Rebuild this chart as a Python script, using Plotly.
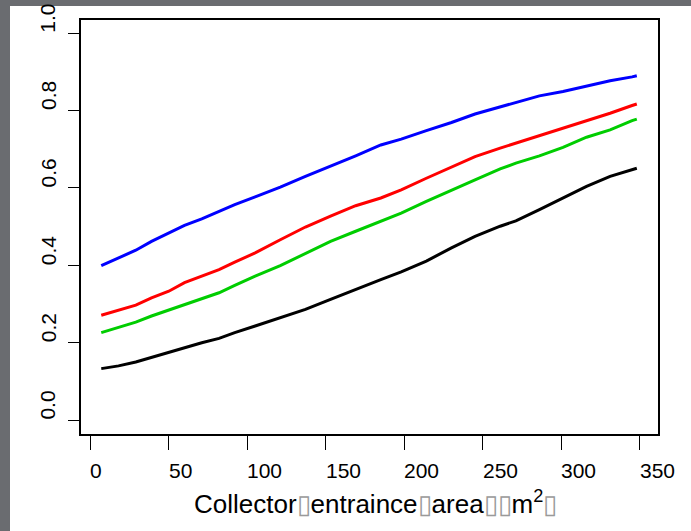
import plotly.graph_objects as go

# Collector entrance area (m^2)
area = [7, 18, 29, 39, 50, 60, 71, 82, 92, 105, 121, 137, 153, 169, 185,
        198, 214, 230, 245, 261, 271, 286, 301, 316, 331, 345, 348]

blue = [0.399, 0.419, 0.439, 0.462, 0.484, 0.503, 0.520, 0.539, 0.557, 0.577,
        0.602, 0.630, 0.656, 0.683, 0.711, 0.726, 0.748, 0.769, 0.791, 0.810,
        0.820, 0.838, 0.849, 0.863, 0.877, 0.887, 0.890]
red = [0.271, 0.284, 0.297, 0.316, 0.333, 0.355, 0.372, 0.389, 0.408, 0.432,
       0.466, 0.499, 0.527, 0.554, 0.574, 0.595, 0.625, 0.654, 0.681, 0.703,
       0.716, 0.734, 0.754, 0.774, 0.793, 0.813, 0.817]
green = [0.226, 0.239, 0.253, 0.269, 0.284, 0.299, 0.312, 0.329, 0.348, 0.372,
         0.399, 0.430, 0.462, 0.488, 0.514, 0.535, 0.565, 0.595, 0.621, 0.649,
         0.664, 0.683, 0.705, 0.731, 0.750, 0.774, 0.778]
black = [0.133, 0.140, 0.150, 0.162, 0.174, 0.187, 0.200, 0.211, 0.226, 0.243,
         0.265, 0.286, 0.312, 0.338, 0.363, 0.383, 0.411, 0.445, 0.475, 0.501,
         0.515, 0.544, 0.574, 0.604, 0.630, 0.647, 0.651]

series = [("blue", blue, "#0000FF"), ("red", red, "#FF0000"),
          ("green", green, "#00CD00"), ("black", black, "#000000")]

x_ticks = [0, 50, 100, 150, 200, 250, 300, 350]
x_labels = ["0", "50", "100", "150", "200", "250", "300", "350"]
y_ticks = [0.0, 0.2, 0.4, 0.6, 0.8, 1.0]
y_labels = ["0.0", "0.2", "0.4", "0.6", "0.8", "1.0"]
tofu = '<span style="color:#9a9a9a">\u25af</span>'
x_title = "Collector" + tofu + "entraince" + tofu + "area" + tofu + tofu + "m<sup>2</sup>" + tofu

fig = go.Figure()
for name, vals, col in series:
    fig.add_trace(go.Scatter(x=area, y=vals, mode="lines", name=name,
                             line=dict(color=col, width=3), showlegend=False))

W, H = 691, 531
L, R, T, B = 81, 33, 20, 97
pw, ph = W - L - R, H - T - B

def px_to_paper_x(px):
    return (px - L) / pw

def px_to_paper_y(py):
    return (H - B - py) / ph

fig.add_shape(type="rect", xref="paper", yref="paper",
              x0=px_to_paper_x(10), x1=px_to_paper_x(W + 5),
              y0=px_to_paper_y(H + 5), y1=px_to_paper_y(6),
              fillcolor="white", line=dict(width=0), layer="below")

font = "Liberation Sans, Arial, sans-serif"

# tick labels: left-aligned at the tick positions, as in the reference
for v, t in zip(x_ticks, x_labels):
    fig.add_annotation(x=v, xref="x", xanchor="left", y=px_to_paper_y(470),
                       yref="paper", yanchor="middle", text=t, showarrow=False,
                       font=dict(size=21, family=font, color="black"),
                       borderpad=0, borderwidth=0)
for v, t in zip(y_ticks, y_labels):
    fig.add_annotation(y=v, yref="y", yanchor="bottom", x=px_to_paper_x(48),
                       xref="paper", xanchor="center", text=t, textangle=-90,
                       showarrow=False, font=dict(size=21, family=font, color="black"),
                       borderpad=0, borderwidth=0)

fig.add_annotation(x=px_to_paper_x(375), xref="paper", xanchor="center",
                   y=px_to_paper_y(502), yref="paper", yanchor="middle",
                   text=x_title, showarrow=False,
                   font=dict(size=26, family=font, color="black"))

fig.update_layout(
    width=W, height=H,
    margin=dict(l=L, r=R, t=T, b=B),
    paper_bgcolor="#6a6c70",
    plot_bgcolor="white",
    font=dict(family=font, color="black", size=21),
    xaxis=dict(range=[-5.9, 361.5], tickvals=x_ticks, ticks="outside",
               ticklen=14, tickwidth=1.3, tickcolor="black", showticklabels=False,
               showline=True, linecolor="black", linewidth=1.8, mirror=True,
               showgrid=False, zeroline=False),
    yaxis=dict(range=[-0.036, 1.034], tickvals=y_ticks,
               ticks="outside", ticklen=11, tickwidth=1.3, tickcolor="black",
               showticklabels=False,
               showline=True, linecolor="black", linewidth=1.8, mirror=True,
               showgrid=False, zeroline=False),
)

fig.write_html("out.html")
